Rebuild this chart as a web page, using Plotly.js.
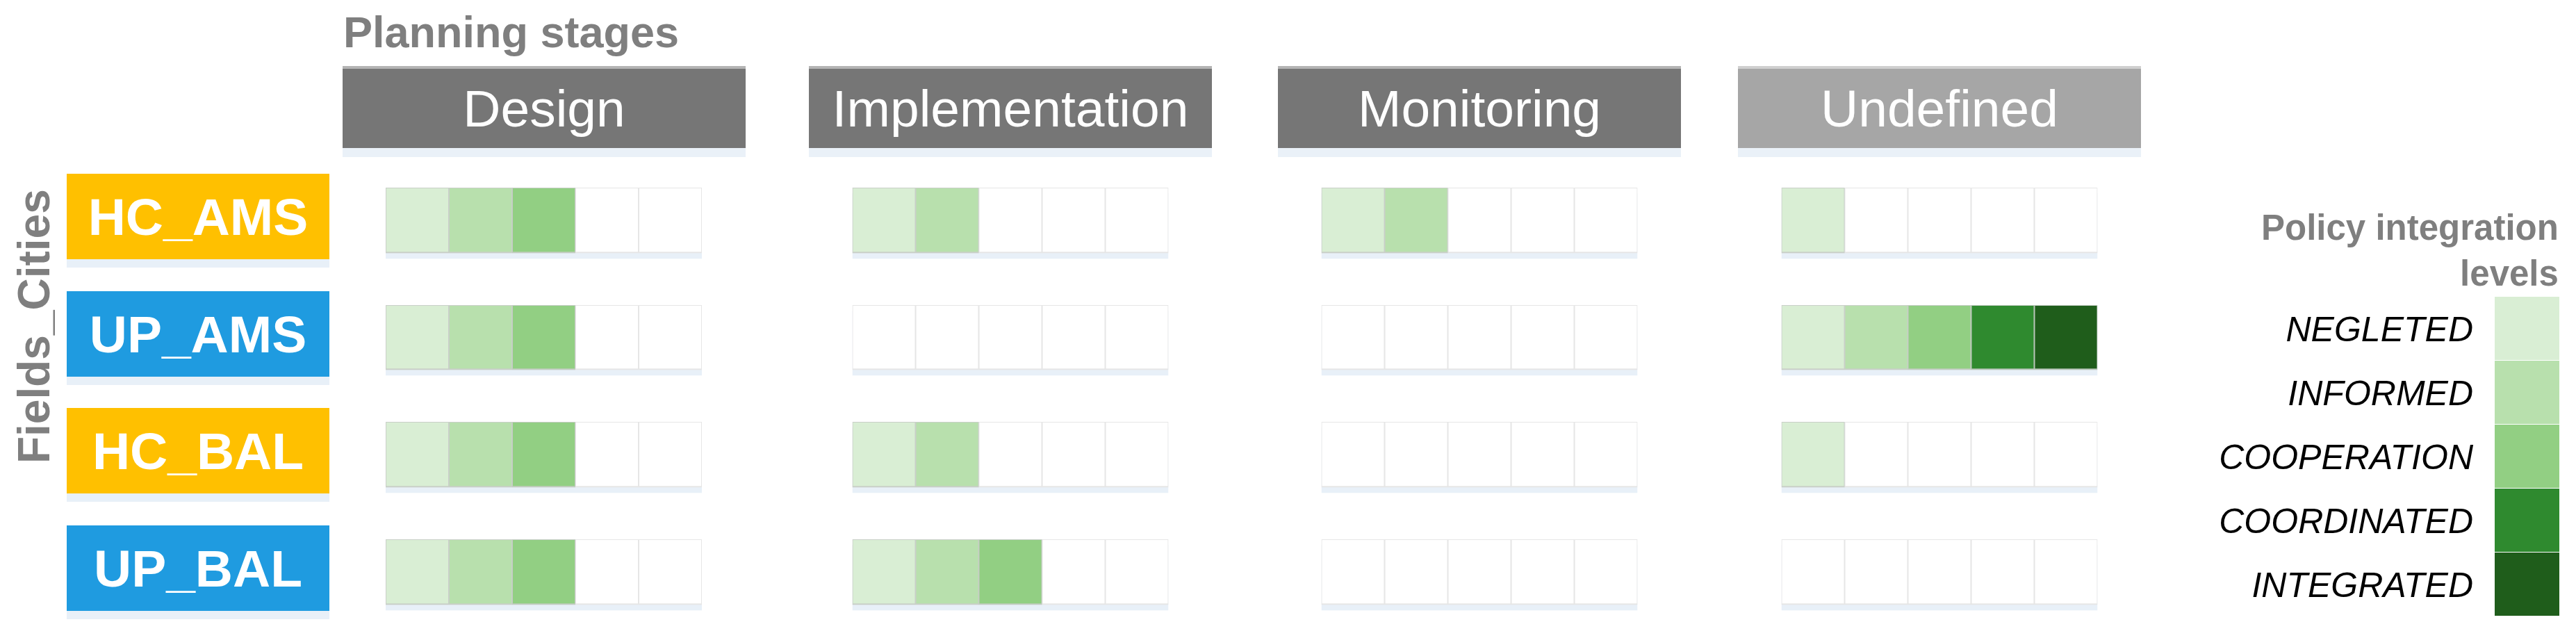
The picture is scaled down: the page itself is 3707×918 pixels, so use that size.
<!DOCTYPE html>
<html>
<head>
<meta charset="utf-8">
<script src="https://cdn.plot.ly/plotly-3.0.1.min.js"></script>
<style>
  html, body { margin:0; padding:0; background:#fff; }
  #chart { width:3707px; height:918px; }
</style>
</head>
<body>
<div id="chart"></div>
<script>
// values
const stages = ['Design', 'Implementation', 'Monitoring', 'Undefined'];
const cities = ['HC_AMS', 'UP_AMS', 'HC_BAL', 'UP_BAL'];
const levels = ['NEGLETED', 'INFORMED', 'COOPERATION', 'COORDINATED', 'INTEGRATED'];

// rows = cities, columns = levels, value = level reached (0 = empty)
const designCells = [[1,2,3,0,0],[1,2,3,0,0],[1,2,3,0,0],[1,2,3,0,0]];
const implementationCells = [[1,2,0,0,0],[0,0,0,0,0],[1,2,0,0,0],[1,2,3,0,0]];
const monitoringCells = [[1,2,0,0,0],[0,0,0,0,0],[0,0,0,0,0],[0,0,0,0,0]];
const undefinedCells = [[1,0,0,0,0],[1,2,3,4,5],[1,0,0,0,0],[0,0,0,0,0]];
const legendValues = [1, 2, 3, 4, 5];

// styles
const levelColors = ['#ffffff','#d9eed4','#b8e0ad','#92cf83','#2f8a2f','#1f5d1b'];
const borderColors = ['#e6e6e6','#c9cfc8','#c9cfc8','#c4ccc3','#b9c5b9','#b9c5b9'];
const stageColors = ['#767676','#767676','#767676','#a6a6a6'];
const stageEdge = ['#b4b4b4','#b4b4b4','#b4b4b4','#cfcfcf'];
const cityColors = ['#ffc000','#1f9be0','#ffc000','#1f9be0'];
const greyText = '#7f7f7f';
const FONT = 'Liberation Sans, Arial, sans-serif';

const W = 3707, H = 918;
const X = v => v / W;
const Y = v => 1 - v / H;

const stepScale = cols => {
  const n = cols.length, out = [];
  cols.forEach((c, i) => { out.push([i / n, c]); out.push([(i + 1) / n, c]); });
  return out;
};

// layout geometry (pixels)
const cellW = 91, cellH = 91, rowPitch = 168.7, rowTop = 233;
const stageCentres = [782.5, 1454, 2129, 2791];
const headW = 580, headH = 116, headY = 156;
const shadowShift = 8 / rowPitch;

const stageData = [designCells, implementationCells, monitoringCells, undefinedCells];
const rowIdx = cities.map((c, i) => i);

const box = (x, y, w, h, bg, text, font) => ({
  xref:'paper', yref:'paper', x: X(x), y: Y(y), xanchor:'center', yanchor:'middle',
  text: text || ' ', showarrow:false, width:w, height:h, bgcolor:bg, borderpad:0, borderwidth:0,
  font: font || {size: 10}
});

const traces = [];
const layout = {
  width: W, height: H,
  margin: {l:0, r:0, t:0, b:0, pad:0},
  paper_bgcolor: '#fff', plot_bgcolor: 'rgba(0,0,0,0)',
  showlegend: false,
  font: {family: FONT},
  yaxis: {domain: [Y(rowTop + 4 * rowPitch), Y(rowTop)], range: [3.5, -0.5], visible: false, fixedrange: true},
  annotations: []
};

stageData.forEach((cells, s) => {
  const xa = s === 0 ? 'x' : 'x' + (s + 1);
  const c = stageCentres[s];
  layout[s === 0 ? 'xaxis' : 'xaxis' + (s + 1)] = {
    domain: [X(c - 2.5 * cellW), X(c + 2.5 * cellW)],
    type: 'category', range: [-0.5, 4.5], anchor: 'y', visible: false, fixedrange: true
  };
  const base = {type: 'heatmap', x: levels, z: cells, xaxis: xa, yaxis: 'y',
    zmin: -0.5, zmax: 5.5, showscale: false, hoverinfo: 'skip'};
  // soft shadow under the row
  traces.push({...base, y: rowIdx.map(r => r + shadowShift), colorscale: [[0,'#e8f0f8'],[1,'#e8f0f8']],
    xgap: 0, ygap: rowPitch - cellH - 3});
  // cell outlines
  traces.push({...base, y: rowIdx, colorscale: stepScale(borderColors), xgap: 0, ygap: rowPitch - cellH - 3});
  // cells
  traces.push({...base, y: rowIdx, colorscale: stepScale(levelColors), xgap: 2, ygap: rowPitch - cellH});

  // stage header box with shadow and lighter top edge
  layout.annotations.push(box(c, headY + 12, headW, headH, '#eaf1f8'));
  layout.annotations.push(box(c, headY - 3, headW, headH, stageEdge[s]));
  layout.annotations.push(box(c, headY, headW, headH - 2, stageColors[s], stages[s],
    {family: FONT, size:75, color:'#fff'}));
});

// row labels
cities.forEach((name, r) => {
  const cy = rowTop + (r + 0.5) * rowPitch - 6;
  layout.annotations.push(box(285, cy + 12, 378, 123, '#e8f0f8'));
  layout.annotations.push(box(285, cy, 378, 123, cityColors[r], name,
    {family: FONT, size:75, color:'#fff', weight:'bold'}));
});

// titles
layout.annotations.push({xref:'paper', yref:'paper', x: X(492), y: Y(46), xanchor:'left', yanchor:'middle',
  text:'Planning stages', showarrow:false, font:{family: FONT, size:63, color: greyText, weight:'bold'}});
layout.annotations.push({xref:'paper', yref:'paper', x: X(49), y: Y(470), xanchor:'center', yanchor:'middle',
  text:'Fields_Cities', textangle:-90, showarrow:false, font:{family: FONT, size:64, color: greyText, weight:'bold'}});
layout.annotations.push({xref:'paper', yref:'paper', x: X(3684), y: Y(424), xanchor:'right', yanchor:'bottom',
  text:'Policy integration<br>levels', align:'right', showarrow:false,
  font:{family: FONT, size:51, color: greyText, weight:'bold'}});

// legend bar
layout.xaxis5 = {domain: [X(3590), X(3683)], range: [-0.5, 0.5], anchor: 'y2', visible: false, fixedrange: true};
layout.yaxis2 = {domain: [Y(887), Y(427)], anchor: 'x5', type: 'category', autorange: 'reversed',
  showgrid: false, zeroline: false, showline: false, ticks: 'outside', ticklen: 20, tickcolor: 'rgba(0,0,0,0)',
  tickfont: {family: FONT, size: 50, color: '#000', style: 'italic'}, fixedrange: true};
traces.push({type: 'heatmap', x: [0], y: levels, z: legendValues.map(v => [v]), xaxis: 'x5', yaxis: 'y2',
  zmin: -0.5, zmax: 5.5, colorscale: stepScale(levelColors), showscale: false, ygap: 1, hoverinfo: 'skip'});

Plotly.newPlot('chart', traces, layout, {displayModeBar: false, staticPlot: true});
</script>
</body>
</html>
